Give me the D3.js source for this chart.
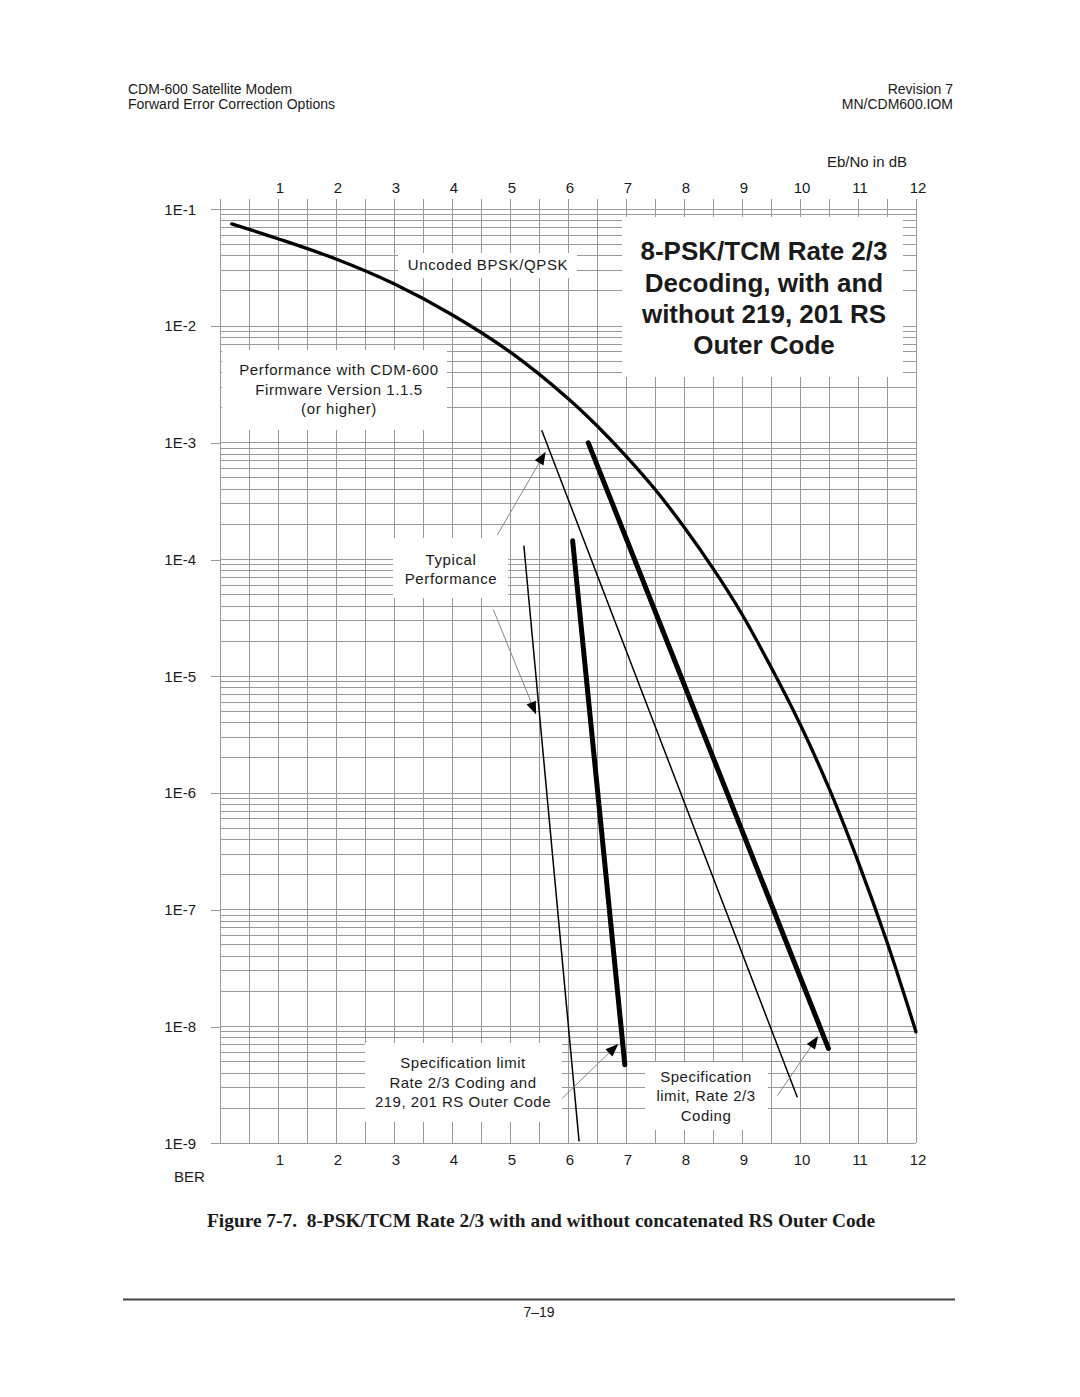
<!DOCTYPE html>
<html>
<head>
<meta charset="utf-8">
<script src="https://cdn.jsdelivr.net/npm/d3@7"></script>
<style>
  body { margin: 0; background: #fff; }
  svg text { font-family: "Liberation Sans", Arial, sans-serif; fill: #1a1a1a; }
</style>
</head>
<body>
<svg id="chart"></svg>
<script>
// tick values
const ebnoTicks = [1, 2, 3, 4, 5, 6, 7, 8, 9, 10, 11, 12];
const berTicks = [1e-1, 1e-2, 1e-3, 1e-4, 1e-5, 1e-6, 1e-7, 1e-8, 1e-9];
const berLabels = ["1E-1", "1E-2", "1E-3", "1E-4", "1E-5", "1E-6", "1E-7", "1E-8", "1E-9"];

// uncoded BPSK/QPSK curve
const uncodedEbNo = [0.2, 1, 2, 3, 4, 5, 6, 6.5, 7, 7.5, 8, 8.5, 9, 9.5, 10, 10.5, 11, 11.5, 12];
const uncodedBer = [7.5e-2, 5.6e-2, 3.75e-2, 2.3e-2, 1.25e-2, 6.0e-3, 2.4e-3, 1.4e-3, 7.7e-4, 4.0e-4,
                    1.9e-4, 8.4e-5, 3.4e-5, 1.2e-5, 3.9e-6, 1.1e-6, 2.6e-7, 5.3e-8, 9.0e-9];

// rate 2/3 TCM, no outer code
const typicalNoRsEbNo = [5.55, 9.95];
const typicalNoRsBer = [1.27e-3, 2.5e-9];
const specNoRsEbNo = [6.35, 10.49];
const specNoRsBer = [1.0e-3, 6.5e-9];

// rate 2/3 TCM + 219,201 RS
const typicalRsEbNo = [5.24, 6.19];
const typicalRsBer = [1.3e-4, 1.05e-9];
const specRsEbNo = [6.08, 6.98];
const specRsBer = [1.45e-4, 4.7e-9];

// arrows: [fromEbNo, fromBer, tipEbNo, tipBer]
const arrows = [
  [4.78, 1.62e-4, 5.615, 8.4e-4],
  [4.71, 3.75e-5, 5.45, 4.7e-6],
  [5.90, 2.43e-9, 6.867, 7.1e-9],
  [9.61, 2.56e-9, 10.315, 8.3e-9]
];

const svgWidth = 1080, svgHeight = 1397;
const plotLeft = 220, plotRight = 916, plotTop = 209.3, plotBottom = 1143.3;

const svg = d3.select("#chart")
    .attr("width", svgWidth)
    .attr("height", svgHeight);

svg.append("rect").attr("width", svgWidth).attr("height", svgHeight).attr("fill", "#fff");

const x = d3.scaleLinear().domain([0, 12]).range([plotLeft, plotRight]);
const y = d3.scaleLog().domain([1e-1, 1e-9]).range([plotTop, plotBottom]);

// page header
const header = svg.append("g").style("font-size", "14px");
header.append("text").attr("x", 128).attr("y", 93.5).text("CDM-600 Satellite Modem");
header.append("text").attr("x", 128).attr("y", 109).text("Forward Error Correction Options");
header.append("text").attr("x", 953).attr("y", 93.5).attr("text-anchor", "end").text("Revision 7");
header.append("text").attr("x", 953).attr("y", 109).attr("text-anchor", "end").text("MN/CDM600.IOM");

// grid
const grid = svg.append("g")
    .attr("stroke", "#999")
    .attr("stroke-width", 1)
    .attr("shape-rendering", "crispEdges");

const halfSteps = d3.range(0, 12.01, 0.5);
grid.selectAll(".vline").data(halfSteps).join("line")
    .attr("x1", d => x(d)).attr("x2", d => x(d))
    .attr("y1", plotTop - 10).attr("y2", plotBottom);

const minorBer = [];
for (let k = -9; k <= -2; k++) {
  for (let m = 1; m <= 9; m++) minorBer.push(m * Math.pow(10, k));
}
minorBer.push(1e-1);
grid.selectAll(".hline").data(minorBer).join("line")
    .attr("x1", plotLeft).attr("x2", plotRight)
    .attr("y1", d => y(d)).attr("y2", d => y(d));

// axes
const axisTop = svg.append("g")
    .attr("transform", `translate(0,${plotTop})`)
    .call(d3.axisTop(x).tickValues(ebnoTicks).tickSize(0).tickPadding(16).tickFormat(d3.format("d")));
const axisBottom = svg.append("g")
    .attr("transform", `translate(0,${plotBottom})`)
    .call(d3.axisBottom(x).tickValues(ebnoTicks).tickSize(0).tickPadding(11).tickFormat(d3.format("d")));
const axisLeft = svg.append("g")
    .attr("transform", `translate(${plotLeft},0)`)
    .call(d3.axisLeft(y).tickValues(berTicks).tickSize(9).tickPadding(15)
      .tickFormat((d, i) => berLabels[i]));

[axisTop, axisBottom, axisLeft].forEach(a => {
  a.select(".domain").remove();
  a.selectAll("text").style("font-size", "15px").attr("fill", "#1a1a1a")
    .style("font-family", '"Liberation Sans", Arial, sans-serif');
  a.selectAll(".tick line").attr("stroke", "#999").attr("shape-rendering", "crispEdges");
});
axisTop.selectAll("text").attr("dx", 1.5);
axisBottom.selectAll("text").attr("dx", 1.5);

svg.append("text").attr("x", 907).attr("y", 166.5).attr("text-anchor", "end")
    .style("font-size", "15px").text("Eb/No in dB");
svg.append("text").attr("x", 174).attr("y", 1182)
    .style("font-size", "15px").text("BER");

// white label boxes
function labelBox(x0, y0, x1, y1) {
  svg.append("rect").attr("x", x0).attr("y", y0)
      .attr("width", x1 - x0).attr("height", y1 - y0).attr("fill", "#fff");
}
function labelText(cx, baselines, lines, size, weight, spacing) {
  const t = svg.append("text")
      .attr("text-anchor", "middle")
      .style("font-size", size + "px")
      .style("font-weight", weight)
      .style("letter-spacing", spacing + "px");
  lines.forEach((s, i) => t.append("tspan").attr("x", cx).attr("y", baselines[i]).text(s));
}

labelBox(398, 253, 577, 278);
labelBox(622, 217, 903, 377);
labelBox(222, 350, 447, 430);
labelBox(393, 538, 508, 598);
labelBox(365, 1043, 562, 1122);
labelBox(645, 1062, 768, 1130);

labelText(488, [269.5], ["Uncoded BPSK/QPSK"], 15, "normal", 0.6);
labelText(764, [260, 291.5, 323, 354],
  ["8-PSK/TCM Rate 2/3", "Decoding, with and", "without 219, 201 RS", "Outer Code"], 26, "bold", 0);
labelText(339, [375, 394.5, 414], ["Performance with CDM-600", "Firmware Version 1.1.5", "(or higher)"], 15, "normal", 0.6);
labelText(451, [565, 584], ["Typical", "Performance"], 15, "normal", 0.6);
labelText(463, [1068, 1087.5, 1107], ["Specification limit", "Rate 2/3 Coding and", "219, 201 RS Outer Code"], 15, "normal", 0.5);
labelText(706, [1082, 1101, 1120.5], ["Specification", "limit, Rate 2/3", "Coding"], 15, "normal", 0.5);

// curves
const line = d3.line()
    .x(d => x(d[0]))
    .y(d => y(d[1]))
    .curve(d3.curveCatmullRom.alpha(0.5));

function drawSeries(ebno, ber, width) {
  svg.append("path")
      .datum(ebno.map((e, i) => [e, ber[i]]))
      .attr("d", line)
      .attr("fill", "none")
      .attr("stroke", "#000")
      .attr("stroke-width", width)
      .attr("stroke-linecap", "round")
      .attr("stroke-linejoin", "round");
}

drawSeries(uncodedEbNo, uncodedBer, 3.3);
drawSeries(typicalNoRsEbNo, typicalNoRsBer, 1.5);
drawSeries(specNoRsEbNo, specNoRsBer, 5);
drawSeries(typicalRsEbNo, typicalRsBer, 1.5);
drawSeries(specRsEbNo, specRsBer, 5);

// arrows
arrows.forEach(a => {
  const x0 = x(a[0]), y0 = y(a[1]), x1 = x(a[2]), y1 = y(a[3]);
  const ang = Math.atan2(y1 - y0, x1 - x0);
  const len = 13, half = 5;
  const bx = x1 - len * Math.cos(ang), by = y1 - len * Math.sin(ang);
  svg.append("line")
      .attr("x1", x0).attr("y1", y0).attr("x2", bx).attr("y2", by)
      .attr("stroke", "#888").attr("stroke-width", 1);
  const pts = [
    [x1, y1],
    [bx + half * Math.sin(ang), by - half * Math.cos(ang)],
    [bx - half * Math.sin(ang), by + half * Math.cos(ang)]
  ];
  svg.append("polygon").attr("points", pts.map(p => p.join(",")).join(" ")).attr("fill", "#000");
});

// caption and footer
svg.append("text")
    .attr("x", 541).attr("y", 1227)
    .attr("text-anchor", "middle")
    .style("font-family", '"Liberation Serif", "Times New Roman", serif')
    .style("font-size", "19px")
    .style("font-weight", "bold")
    .style("white-space", "pre")
    .attr("textLength", 668)
    .attr("lengthAdjust", "spacingAndGlyphs")
    .text("Figure 7-7.  8-PSK/TCM Rate 2/3 with and without concatenated RS Outer Code");

svg.append("line")
    .attr("x1", 123).attr("x2", 955).attr("y1", 1299.5).attr("y2", 1299.5)
    .attr("stroke", "#444").attr("stroke-width", 2);
svg.append("text").attr("x", 539).attr("y", 1317).attr("text-anchor", "middle")
    .style("font-size", "14px").text("7–19");
</script>
</body>
</html>
